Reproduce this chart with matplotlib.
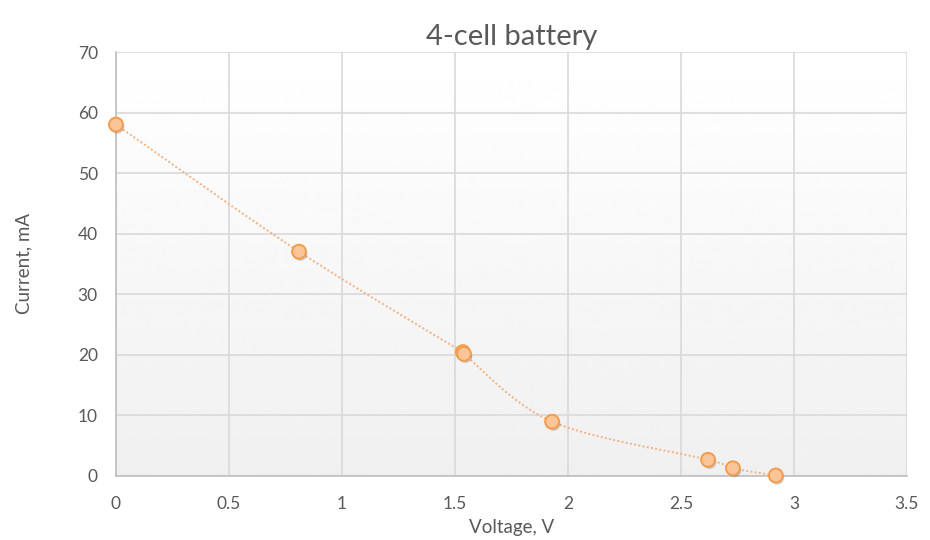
import numpy as np
import matplotlib
matplotlib.use("Agg")
import matplotlib.pyplot as plt
import matplotlib.patheffects as pe

voltage = [0.0, 0.81, 1.535, 1.54, 1.93, 2.62, 2.73, 2.92]
current = [58.0, 37.0, 20.4, 20.1, 8.9, 2.6, 1.2, 0.0]

title = "4-cell battery"
xlab = "Voltage, V"
ylab = "Current, mA"
xticks = [0, 0.5, 1, 1.5, 2, 2.5, 3, 3.5]
xticklabels = ["0", "0.5", "1", "1.5", "2", "2.5", "3", "3.5"]
yticks = [0, 10, 20, 30, 40, 50, 60, 70]

plt.rcParams['font.family'] = ['Lato', 'DejaVu Sans']
txt = '#595959'


def smooth(xs, ys, n=30):
    # catmull-rom style curve like excel's smoothed line
    xs = np.asarray(xs, float)
    ys = np.asarray(ys, float)
    px = np.concatenate([[xs[0]], xs, [xs[-1]]])
    py = np.concatenate([[ys[0]], ys, [ys[-1]]])
    ox, oy = [], []
    for i in range(1, len(px) - 2):
        p0 = np.array([px[i - 1], py[i - 1]])
        p1 = np.array([px[i], py[i]])
        p2 = np.array([px[i + 1], py[i + 1]])
        p3 = np.array([px[i + 2], py[i + 2]])
        c1 = p1 + (p2 - p0) / 6.0
        c2 = p2 - (p3 - p1) / 6.0
        t = np.linspace(0, 1, n)[:, None]
        b = ((1 - t) ** 3) * p1 + 3 * ((1 - t) ** 2) * t * c1 + 3 * (1 - t) * t ** 2 * c2 + t ** 3 * p2
        ox.extend(b[:, 0])
        oy.extend(b[:, 1])
    return ox, oy


fig = plt.figure(figsize=(9.3, 5.4), dpi=100)
ax = fig.add_axes([0.1247, 0.1194, 0.8505, 0.7843])

# soft vertical gradient in the plot area
grad = np.linspace(0.94, 1.0, 256).reshape(-1, 1)
ax.imshow(grad, extent=[0, 1, 0, 1], transform=ax.transAxes, cmap='gray',
          vmin=0, vmax=1, aspect='auto', origin='lower', zorder=0)

ax.set_xlim(0, 3.5)
ax.set_ylim(0, 70)
ax.set_xticks(xticks)
ax.set_xticklabels(xticklabels)
ax.set_yticks(yticks)
ax.grid(True, color='#d9d9d9', linewidth=1.2, zorder=1)
ax.set_axisbelow(True)
ax.tick_params(axis='x', length=0, labelsize=12.5, colors=txt, pad=15)
ax.tick_params(axis='y', length=0, labelsize=12.5, colors=txt, pad=13)

for s in ['top', 'right']:
    ax.spines[s].set_visible(False)
ax.spines['left'].set_color('#bfbfbf')
ax.spines['bottom'].set_color('#bfbfbf')
ax.spines['left'].set_linewidth(1.2)
ax.spines['bottom'].set_linewidth(1.2)

sx, sy = smooth(voltage, current)
ax.plot(sx, sy, color='#f4b183', linestyle=(0, (1, 1.2)), linewidth=1.4, zorder=3)
ax.plot(voltage, current, linestyle='none', marker='o', markersize=10,
        markerfacecolor='#fbc597', markeredgecolor='#f29c4f', markeredgewidth=1.4,
        zorder=4, clip_on=False,
        path_effects=[pe.SimplePatchShadow(offset=(1, -1.5), alpha=0.25), pe.Normal()])

ax.set_title(title, fontsize=21, color=txt, pad=5)
ax.set_xlabel(xlab, fontsize=13.5, color=txt, labelpad=5)
ax.set_ylabel(ylab, fontsize=13.5, color=txt, labelpad=33)

fig.savefig('out.png', dpi=100, facecolor='white')
